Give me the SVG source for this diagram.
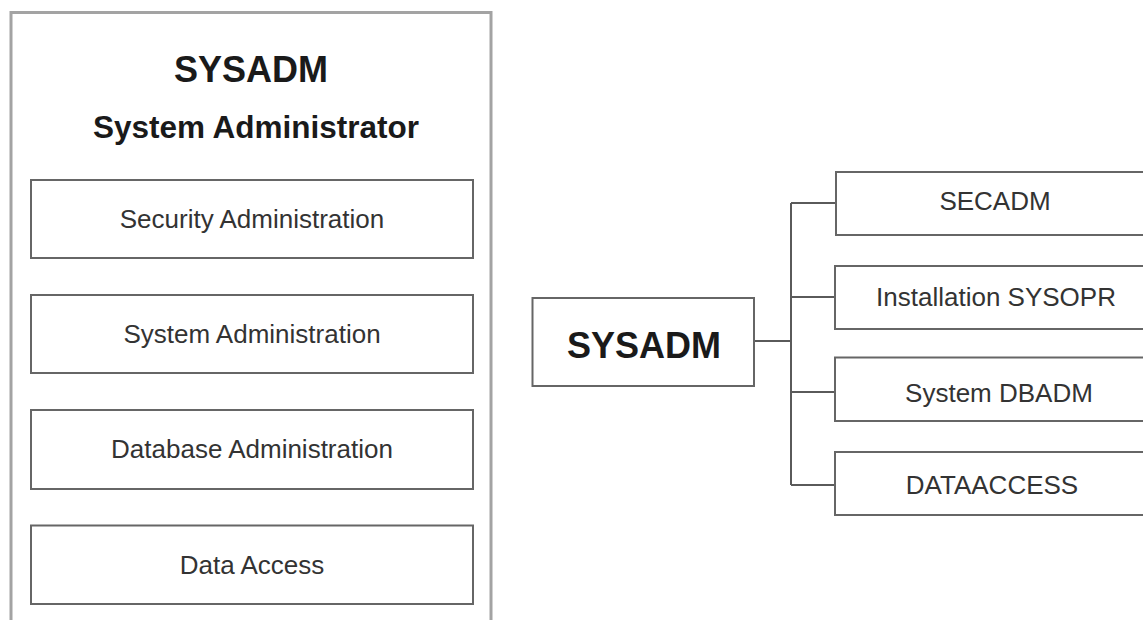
<svg xmlns="http://www.w3.org/2000/svg" width="1143" height="620" viewBox="0 0 1143 620">
<style>
.outer{fill:#fff;stroke:#a3a3a3;stroke-width:3}
.box{fill:#fff;stroke:#666;stroke-width:2}
.conn{fill:none;stroke:#5a5a5a;stroke-width:2}
.title{font-family:"Liberation Sans",Arial,sans-serif;font-weight:bold;fill:#1a1a1a;text-anchor:middle}
.lbl{font-family:"Liberation Sans",Arial,sans-serif;font-size:26px;fill:#333;text-anchor:middle}
</style>
<rect width="1143" height="620" fill="#fff"/>
<g id="sysadm-panel">
  <rect class="outer" x="11" y="12.5" width="480" height="620"/>
  <text class="title" x="251" y="82" font-size="36">SYSADM</text>
  <text class="title" x="256" y="138" font-size="31.5">System Administrator</text>
</g>
<g id="security-administration">
  <rect class="box" x="31" y="180" width="442" height="78"/>
  <text class="lbl" x="252" y="227.5">Security Administration</text>
</g>
<g id="system-administration">
  <rect class="box" x="31" y="295" width="442" height="78"/>
  <text class="lbl" x="252" y="342.5">System Administration</text>
</g>
<g id="database-administration">
  <rect class="box" x="31" y="410" width="442" height="79"/>
  <text class="lbl" x="252" y="458">Database Administration</text>
</g>
<g id="data-access">
  <rect class="box" x="31" y="525.5" width="442" height="78.5"/>
  <text class="lbl" x="252" y="573.5">Data Access</text>
</g>
<g id="connectors">
  <path class="conn" d="M754 341H791M791 203V485M791 203H836M791 297H835M791 392H835M791 485H835"/>
</g>
<g id="sysadm">
  <rect class="box" x="532.5" y="298" width="221.5" height="88"/>
  <text class="title" x="644" y="358" font-size="36">SYSADM</text>
</g>
<g id="secadm">
  <rect class="box" x="836" y="172" width="330" height="63"/>
  <text class="lbl" x="995" y="210">SECADM</text>
</g>
<g id="installation-sysopr">
  <rect class="box" x="835" y="266" width="330" height="63"/>
  <text class="lbl" x="996" y="306">Installation SYSOPR</text>
</g>
<g id="system-dbadm">
  <rect class="box" x="835" y="357.5" width="330" height="63.5"/>
  <text class="lbl" x="999" y="402">System DBADM</text>
</g>
<g id="dataaccess">
  <rect class="box" x="835" y="452" width="330" height="63"/>
  <text class="lbl" x="992" y="494">DATAACCESS</text>
</g>
</svg>
